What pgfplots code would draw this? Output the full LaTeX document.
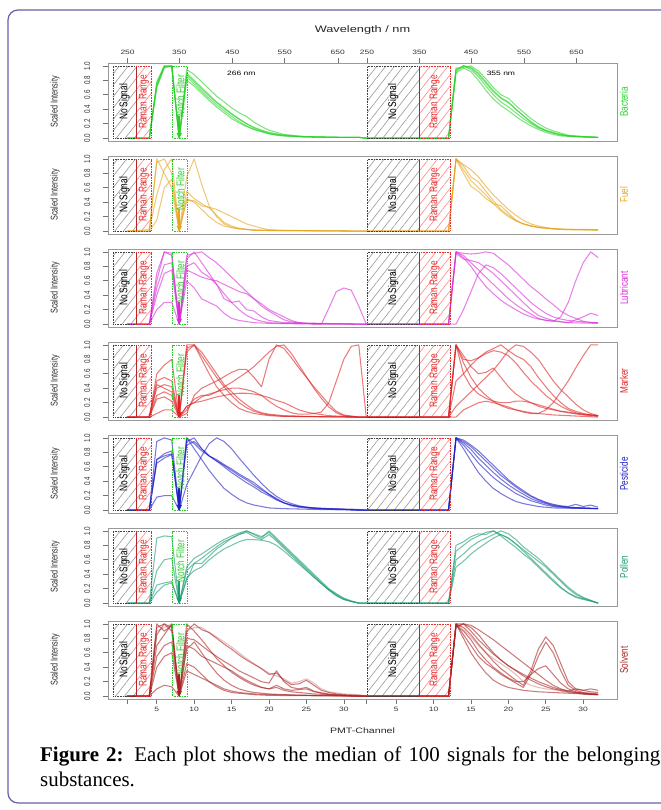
\documentclass[border=0pt]{standalone}
\usepackage{fontspec}
\setmainfont{Liberation Sans}
\newfontfamily\capfont{Liberation Serif}
\usepackage{pgfplots}
\pgfplotsset{compat=1.18}
\usetikzlibrary{patterns.meta,arrows.meta}
\definecolor{cBac}{RGB}{40,210,40}
\definecolor{cFue}{RGB}{230,165,30}
\definecolor{cLub}{RGB}{215,45,215}
\definecolor{cMar}{RGB}{222,35,35}
\definecolor{cPes}{RGB}{30,30,200}
\definecolor{cPol}{RGB}{25,155,115}
\definecolor{cSol}{RGB}{170,35,35}
\definecolor{cRam}{RGB}{225,45,45}
\definecolor{cNot}{RGB}{40,200,40}
\definecolor{cFrame}{RGB}{105,95,170}
\newcommand{\tl}{\fontsize{6.3}{7}\selectfont}
\newcommand{\rf}{\fontsize{8.3}{9}\selectfont}

\newcommand{\hatchregions}{%
  \fill[pattern={Lines[angle=52,distance=7bp,line width=0.65bp]}, pattern color=black!38] (axis cs:-0.87,0) rectangle (axis cs:2.24,0.99);
  \fill[pattern={Lines[angle=52,distance=7bp,line width=0.65bp]}, pattern color=red!45] (axis cs:2.24,0) rectangle (axis cs:4.24,0.99);
  \fill[pattern={Lines[angle=52,distance=7bp,line width=0.65bp]}, pattern color=black!38] (axis cs:33.13,0) rectangle (axis cs:40.07,0.99);
  \fill[pattern={Lines[angle=52,distance=7bp,line width=0.65bp]}, pattern color=red!45] (axis cs:40.07,0) rectangle (axis cs:44.2,0.99);
}
\newcommand{\regionlabels}[1]{%
  \draw[densely dotted, black!75, line width=0.6bp] (axis cs:-0.87,0) rectangle (axis cs:2.24,0.99);
  \draw[densely dotted, cRam, line width=0.6bp] (axis cs:2.24,0) rectangle (axis cs:4.24,0.99);
  \draw[cRam!80!black, line width=0.6bp] (axis cs:2.24,0) -- (axis cs:2.24,0.99);
  \draw[densely dotted, black!75, line width=0.6bp] (axis cs:33.13,0) rectangle (axis cs:40.07,0.99);
  \draw[densely dotted, cRam, line width=0.6bp] (axis cs:40.07,0) rectangle (axis cs:44.2,0.99);
  \draw[cRam!80!black, line width=0.6bp] (axis cs:40.07,0) -- (axis cs:40.07,0.99);
  \draw[densely dotted, cNot, line width=0.7bp] (axis cs:7.13,0) rectangle (axis cs:9.13,0.99);
  \draw[#1, line width=1.6bp, -{Triangle[width=5bp,length=6bp]}] (axis cs:8,0.3) -- (axis cs:8,-0.01);
  \node[xscale=1.35, rotate=90, font=\rf, text=black, inner sep=0] at (axis cs:0.68,0.5) {No Signal};
  \node[xscale=1.35, rotate=90, font=\rf, text=cRam, inner sep=0] at (axis cs:3.3,0.5) {Raman Range};
  \node[xscale=1.35, rotate=90, font=\rf, text=cNot, inner sep=0] at (axis cs:8.15,0.58) {Notch Filter};
  \node[xscale=1.35, rotate=90, font=\rf, text=black, inner sep=0] at (axis cs:36.6,0.5) {No Signal};
  \node[xscale=1.35, rotate=90, font=\rf, text=cRam, inner sep=0] at (axis cs:42.15,0.5) {Raman Range};
}

\pgfplotsset{
  panel/.style={at={(108bp,#1)}, anchor=south west, scale only axis,
    width=509bp, height=78bp,
    xmin=-1.52, xmax=66.52, ymin=-0.04, ymax=1.04,
    ytick={0,0.2,0.4,0.6,0.8,1}, yticklabels={0.0,0.2,0.4,0.6,0.8,1.0},
    ytick pos=left, xtick=\empty, tick align=outside, major tick length=5bp,
    axis line style={black!40, line width=0.7bp},
    every tick/.style={black!55, line width=0.6bp},
    yticklabel shift=8bp,
    yticklabel style={xscale=1.35, rotate=90, anchor=south, font=\tl, text=black!80},
    every axis plot/.append style={line width=1.05bp, line join=round, no markers, opacity=0.6},
  },
}

\begin{document}
\begin{tikzpicture}
\useasboundingbox (0,0) rectangle (661bp,810bp);
\draw[cFrame, line width=1.2bp, rounded corners=10bp] (8bp,7bp) rectangle (720bp,800bp);

\node[xscale=1.35, font=\fontsize{9.5}{10}\selectfont, text=black!85] at (362.5bp,780bp) {Wavelength / nm};
\node[xscale=1.35, font=\fontsize{7.9}{9}\selectfont, text=black!85] at (362.5bp,79bp) {PMT-Channel};

% ---------------- Bacteria
\begin{axis}[panel=669bp,
  xtick={1.1,8.0,15.1,22.1,29.2,33.1,40.1,47.0,54.1,61.1},
  xticklabels={250,350,450,550,650,250,350,450,550,650},
  xtick pos=right, xticklabel pos=right,
  xticklabel style={xscale=1.35, font=\tl, text=black!80}]
\hatchregions
\addplot[cBac] coordinates {(1,0)(4,0)(5,0.75)(6,1)(7,1)(8,0)(9,0.9)(10,0.8)(11,0.7)(12,0.6)(13,0.5)(14,0.42)(15,0.34)(16,0.27)(17,0.2)(18,0.15)(19,0.11)(20,0.08)(21,0.06)(22,0.04)(23,0.03)(24,0.02)(26,0.015)(30,0.01)(32,0.01)(33,0)(44,0)(45,0.95)(46,1)(47,0.98)(48,0.9)(49,0.78)(50,0.66)(51,0.56)(52,0.5)(53,0.4)(54,0.31)(55,0.23)(56,0.16)(57,0.11)(58,0.08)(59,0.05)(60,0.03)(61,0.02)(62,0.015)(64,0.01)};
\addplot[cBac] coordinates {(1,0)(4,0)(5,0.72)(6,0.98)(7,1)(8,0)(9,0.85)(10,0.75)(11,0.65)(12,0.55)(13,0.46)(14,0.38)(15,0.3)(16,0.23)(17,0.17)(18,0.12)(19,0.09)(20,0.06)(21,0.04)(22,0.03)(24,0.02)(28,0.01)(32,0.01)(33,0)(44,0)(45,0.92)(46,1)(47,0.95)(48,0.85)(49,0.72)(50,0.6)(51,0.5)(52,0.43)(53,0.35)(54,0.27)(55,0.2)(56,0.14)(57,0.1)(58,0.07)(59,0.04)(60,0.03)(62,0.02)(64,0.01)};
\addplot[cBac] coordinates {(1,0)(4,0)(5,0.78)(6,1)(7,0.99)(8,0)(9,0.95)(10,0.88)(11,0.78)(12,0.68)(13,0.58)(14,0.5)(15,0.42)(16,0.35)(17,0.3)(18,0.22)(19,0.16)(20,0.11)(21,0.08)(22,0.05)(23,0.04)(25,0.02)(30,0.01)(32,0.01)(33,0)(44,0)(45,0.97)(46,0.98)(47,1)(48,0.93)(49,0.82)(50,0.7)(51,0.6)(52,0.55)(53,0.45)(54,0.36)(55,0.27)(56,0.2)(57,0.14)(58,0.1)(59,0.07)(60,0.04)(61,0.03)(63,0.015)(64,0.01)};
\addplot[cBac] coordinates {(1,0)(4,0)(5,0.7)(6,0.97)(7,1)(8,0)(9,0.8)(10,0.72)(11,0.62)(12,0.52)(13,0.43)(14,0.35)(15,0.27)(16,0.21)(17,0.16)(18,0.12)(19,0.09)(20,0.06)(22,0.03)(25,0.02)(30,0.01)(32,0.01)(33,0)(44,0)(45,0.9)(46,0.97)(47,0.92)(48,0.8)(49,0.66)(50,0.54)(51,0.45)(52,0.38)(53,0.3)(54,0.23)(55,0.17)(56,0.12)(57,0.08)(58,0.05)(59,0.03)(61,0.02)(64,0.01)};
\addplot[cBac] coordinates {(1,0)(4,0)(5,0.74)(6,0.99)(7,1)(8,0)(9,0.88)(10,0.78)(11,0.68)(12,0.58)(13,0.49)(14,0.41)(15,0.33)(16,0.26)(17,0.2)(18,0.14)(19,0.1)(20,0.07)(21,0.05)(22,0.04)(24,0.02)(28,0.01)(32,0.01)(33,0)(44,0)(45,0.94)(46,1)(47,0.97)(48,0.88)(49,0.76)(50,0.64)(51,0.55)(52,0.49)(53,0.4)(54,0.31)(55,0.22)(56,0.15)(57,0.1)(58,0.07)(59,0.05)(60,0.03)(62,0.02)(64,0.01)};
\regionlabels{cBac}
\node[xscale=1.35, font=\tl] at (axis cs:16.3,0.89) {266 nm};
\node[xscale=1.35, font=\tl] at (axis cs:51,0.9) {355 nm};
\end{axis}

% ---------------- Fuel
\begin{axis}[panel=576bp]
\hatchregions
\addplot[cFue] coordinates {(1,0)(4,0)(5,1)(6,0.8)(7,0.6)(8,0)(9,0.42)(10,0.42)(11,0.35)(12,0.33)(13,0.3)(14,0.25)(15,0.2)(16,0.15)(17,0.1)(18,0.07)(19,0.04)(20,0.02)(22,0.01)(32,0)(44,0)(45,1)(46,0.85)(47,0.7)(48,0.6)(49,0.5)(50,0.38)(51,0.28)(52,0.2)(53,0.14)(54,0.1)(55,0.07)(56,0.05)(58,0.03)(60,0.02)(64,0.02)};
\addplot[cFue] coordinates {(1,0)(4,0.02)(5,0.5)(6,0.85)(7,1)(8,0)(9,0.55)(10,0.45)(11,0.38)(12,0.32)(13,0.22)(14,0.12)(15,0.07)(16,0.04)(18,0.01)(32,0)(44,0)(45,1)(46,0.92)(47,0.85)(48,0.75)(49,0.62)(50,0.5)(51,0.4)(52,0.3)(53,0.22)(54,0.15)(55,0.1)(56,0.07)(58,0.03)(64,0.02)};
\addplot[cFue] coordinates {(1,0)(4,0)(5,0.15)(6,0.6)(7,0.72)(8,0)(9,0.75)(10,1)(11,0.65)(12,0.35)(13,0.2)(14,0.1)(15,0.05)(16,0.03)(18,0.01)(32,0)(44,0)(45,1)(46,0.8)(47,0.62)(48,0.55)(49,0.45)(50,0.38)(51,0.35)(52,0.25)(53,0.15)(54,0.1)(56,0.05)(60,0.02)(64,0.01)};
\addplot[cFue] coordinates {(1,0)(4,0)(5,0.95)(6,1)(7,0.8)(8,0)(9,0.45)(10,0.4)(11,0.3)(12,0.2)(13,0.12)(14,0.07)(16,0.03)(20,0.01)(32,0)(44,0)(45,1)(46,0.9)(47,0.75)(48,0.68)(49,0.55)(50,0.42)(51,0.3)(52,0.22)(53,0.15)(54,0.1)(55,0.07)(57,0.04)(60,0.02)(64,0.02)};
\regionlabels{cFue}
\end{axis}

% ---------------- Lubricant
\begin{axis}[panel=483bp]
\hatchregions
\addplot[cLub] coordinates {(1,0)(4,0)(5,0.6)(6,1)(7,0.98)(8,0)(9,0.9)(10,1)(11,0.85)(12,0.7)(13,0.55)(14,0.42)(15,0.3)(16,0.2)(17,0.12)(18,0.07)(19,0.04)(20,0.02)(22,0.01)(32,0)(44,0)(45,1)(46,0.98)(47,0.97)(48,0.98)(49,1)(50,0.98)(51,0.9)(52,0.82)(53,0.72)(54,0.62)(55,0.52)(56,0.44)(57,0.35)(58,0.27)(59,0.18)(60,0.12)(61,0.08)(62,0.04)(63,0.02)(64,0.02)};
\addplot[cLub] coordinates {(1,0)(4,0)(5,0.4)(6,0.7)(7,0.75)(8,0)(9,0.95)(10,0.98)(11,1)(12,0.92)(13,0.85)(14,0.75)(15,0.65)(16,0.55)(17,0.45)(18,0.35)(19,0.25)(20,0.18)(21,0.12)(22,0.06)(23,0.03)(25,0.01)(32,0)(44,0)(45,0)(46,0.2)(47,0.45)(48,0.7)(49,0.82)(50,0.78)(51,0.7)(52,0.6)(53,0.5)(54,0.4)(55,0.3)(56,0.22)(57,0.15)(58,0.1)(59,0.07)(60,0.05)(62,0.03)(64,0.02)};
\addplot[cLub] coordinates {(1,0)(4,0)(5,0.2)(6,0.3)(7,0.3)(8,0)(9,0.8)(10,0.85)(11,0.72)(12,0.65)(13,0.55)(14,0.35)(15,0.3)(16,0.32)(17,0.2)(18,0.18)(19,0.1)(20,0.05)(22,0.02)(32,0)(44,0)(45,1)(46,0.95)(47,0.85)(48,0.75)(49,0.65)(50,0.55)(51,0.45)(52,0.35)(53,0.27)(54,0.2)(55,0.14)(56,0.08)(57,0.05)(58,0.04)(59,0.1)(60,0.3)(61,0.6)(62,0.85)(63,1)(64,0.92)};
\addplot[cLub] coordinates {(1,0)(4,0)(5,0.5)(6,0.82)(7,0.85)(8,0)(9,0.75)(10,0.7)(11,0.65)(12,0.62)(13,0.6)(14,0.55)(15,0.5)(16,0.45)(17,0.42)(18,0.35)(19,0.28)(20,0.2)(21,0.15)(22,0.1)(23,0.05)(24,0.02)(26,0)(32,0)(44,0)(45,1)(46,0.92)(47,0.8)(48,0.65)(49,0.52)(50,0.42)(51,0.33)(52,0.26)(53,0.2)(54,0.14)(55,0.1)(56,0.07)(58,0.04)(60,0.02)(62,0.1)(63,0.15)(64,0.12)};
\addplot[cLub] coordinates {(1,0)(4,0)(5,0.7)(6,1)(7,0.95)(8,0)(9,0.6)(10,0.5)(11,0.35)(12,0.3)(13,0.25)(14,0.15)(15,0.08)(16,0.05)(18,0.02)(20,0.01)(27,0)(28,0.22)(29,0.45)(30,0.5)(31,0.47)(32,0.25)(33,0)(44,0)(45,0.98)(46,0.9)(47,0.88)(48,0.85)(49,0.78)(50,0.7)(51,0.6)(52,0.5)(53,0.4)(54,0.3)(55,0.2)(56,0.12)(57,0.08)(58,0.05)(60,0.02)(64,0.01)};
\regionlabels{cLub}
\end{axis}

% ---------------- Marker
\begin{axis}[panel=390bp]
\hatchregions
\addplot[cMar] coordinates {(1,0)(4,0)(5,0.6)(6,0.72)(7,0.8)(8,0)(9,0.95)(10,1)(11,0.85)(12,0.7)(13,0.55)(14,0.42)(15,0.3)(16,0.2)(17,0.13)(18,0.08)(19,0.05)(20,0.03)(22,0.01)(32,0)(44,0)(45,1)(46,0.75)(47,0.55)(48,0.4)(49,0.3)(50,0.22)(51,0.16)(52,0.12)(53,0.1)(54,0.08)(55,0.06)(56,0.05)(58,0.03)(60,0.02)(62,0.01)(64,0)};
\addplot[cMar] coordinates {(1,0)(4,0)(5,0.3)(6,0.35)(7,0.3)(8,0)(9,1)(10,1)(11,0.9)(12,0.75)(13,0.6)(14,0.45)(15,0.35)(16,0.25)(17,0.17)(18,0.1)(19,0.06)(20,0.04)(22,0.02)(25,0.01)(32,0)(44,0)(45,1)(46,0.85)(47,0.7)(48,0.6)(49,0.62)(50,0.68)(51,0.55)(52,0.42)(53,0.32)(54,0.25)(55,0.2)(56,0.15)(57,0.12)(58,0.1)(59,0.08)(60,0.07)(61,0.05)(62,0.04)(63,0.03)(64,0.02)};
\addplot[cMar] coordinates {(1,0)(4,0)(5,0.5)(6,0.55)(7,0.5)(8,0)(9,0.05)(10,0.3)(11,0.4)(12,0.45)(13,0.5)(14,0.56)(15,0.62)(16,0.66)(17,0.66)(18,0.55)(19,0.42)(20,0.8)(21,1)(22,0.95)(23,0.82)(24,0.68)(25,0.55)(26,0.42)(27,0.3)(28,0.18)(29,0.08)(30,0.03)(32,0)(44,0)(45,0.5)(46,0.6)(47,0.72)(48,0.82)(49,0.9)(50,0.95)(51,1)(52,0.92)(53,0.85)(54,0.8)(55,0.7)(56,0.55)(57,0.42)(58,0.3)(59,0.2)(60,0.12)(61,0.08)(62,0.05)(63,0.03)(64,0.02)};
\addplot[cMar] coordinates {(1,0)(4,0)(5,0.45)(6,0.4)(7,0.35)(8,0)(9,0.1)(10,0.25)(11,0.3)(12,0.3)(13,0.35)(14,0.42)(15,0.48)(16,0.55)(17,0.62)(18,0.7)(19,0.8)(20,0.9)(21,0.98)(22,1)(23,0.88)(24,0.72)(25,0.56)(26,0.4)(27,0.26)(28,0.14)(29,0.06)(30,0.02)(32,0)(44,0)(45,0.15)(46,0.25)(47,0.35)(48,0.45)(49,0.55)(50,0.65)(51,0.78)(52,0.92)(53,1)(54,0.98)(55,0.9)(56,0.8)(57,0.65)(58,0.5)(59,0.38)(60,0.28)(61,0.18)(62,0.1)(63,0.05)(64,0.02)};
\addplot[cMar] coordinates {(1,0)(4,0)(5,0.05)(6,0.1)(7,0.1)(8,0)(9,0.15)(10,0.2)(11,0.28)(12,0.32)(13,0.35)(14,0.38)(15,0.4)(16,0.4)(17,0.38)(18,0.35)(19,0.3)(20,0.22)(21,0.15)(22,0.1)(23,0.06)(24,0.04)(25,0.04)(26,0.05)(27,0.07)(28,0.2)(29,0.5)(30,0.8)(31,0.98)(32,1)(33,0)(44,0)(45,0)(46,0.1)(47,0.15)(48,0.2)(49,0.22)(50,0.2)(51,0.17)(52,0.14)(53,0.1)(54,0.07)(55,0.05)(56,0.05)(57,0.1)(58,0.2)(59,0.35)(60,0.5)(61,0.68)(62,0.85)(63,1)(64,1)};
\addplot[cMar] coordinates {(1,0)(4,0)(5,0.4)(6,0.45)(7,0.42)(8,0)(9,0.9)(10,1)(11,0.8)(12,0.6)(13,0.42)(14,0.3)(15,0.2)(16,0.12)(17,0.08)(18,0.05)(20,0.02)(22,0.01)(32,0)(44,0)(45,1)(46,0.8)(47,0.78)(48,0.82)(49,0.88)(50,0.92)(51,0.9)(52,0.85)(53,0.75)(54,0.62)(55,0.5)(56,0.4)(57,0.3)(58,0.22)(59,0.15)(60,0.1)(61,0.06)(62,0.04)(64,0.02)};
\addplot[cMar] coordinates {(1,0)(4,0)(5,0.25)(6,0.28)(7,0.22)(8,0)(9,0.15)(10,0.2)(11,0.22)(12,0.25)(13,0.28)(14,0.3)(15,0.32)(16,0.33)(17,0.33)(18,0.32)(19,0.3)(20,0.27)(21,0.23)(22,0.2)(23,0.15)(24,0.1)(25,0.07)(26,0.05)(28,0.02)(30,0.01)(32,0)(44,0)(45,1)(46,0.6)(47,0.42)(48,0.32)(49,0.26)(50,0.22)(51,0.2)(52,0.2)(53,0.22)(54,0.22)(55,0.2)(56,0.17)(57,0.14)(58,0.11)(59,0.08)(60,0.06)(62,0.03)(64,0.01)};
\regionlabels{cMar}
\end{axis}

% ---------------- Pesticide
\begin{axis}[panel=297bp]
\hatchregions
\addplot[cPes] coordinates {(1,0)(4,0)(5,0.95)(6,1)(7,0.97)(8,0)(9,0.35)(10,0.55)(11,0.75)(12,0.92)(13,1)(14,0.95)(15,0.85)(16,0.72)(17,0.6)(18,0.48)(19,0.37)(20,0.27)(21,0.19)(22,0.13)(23,0.09)(24,0.06)(25,0.04)(27,0.02)(30,0.01)(32,0)(44,0)(45,1)(46,0.95)(47,0.88)(48,0.78)(49,0.68)(50,0.58)(51,0.48)(52,0.4)(53,0.32)(54,0.25)(55,0.19)(56,0.14)(57,0.1)(58,0.07)(59,0.05)(60,0.04)(62,0.03)(64,0.02)};
\addplot[cPes] coordinates {(1,0)(4,0)(5,0.7)(6,0.78)(7,0.82)(8,0)(9,1)(10,0.92)(11,0.82)(12,0.75)(13,0.68)(14,0.62)(15,0.55)(16,0.48)(17,0.42)(18,0.35)(19,0.28)(20,0.22)(21,0.15)(22,0.1)(23,0.07)(24,0.05)(26,0.03)(28,0.02)(32,0.01)(33,0)(44,0)(45,1)(46,0.9)(47,0.78)(48,0.65)(49,0.55)(50,0.45)(51,0.37)(52,0.3)(53,0.23)(54,0.18)(55,0.13)(56,0.1)(57,0.07)(58,0.05)(60,0.03)(64,0.02)};
\addplot[cPes] coordinates {(1,0)(4,0)(5,0.65)(6,0.72)(7,0.77)(8,0)(9,0.95)(10,1)(11,0.85)(12,0.75)(13,0.7)(14,0.63)(15,0.57)(16,0.5)(17,0.44)(18,0.38)(19,0.3)(20,0.22)(21,0.16)(22,0.1)(23,0.07)(24,0.05)(26,0.03)(30,0.01)(32,0)(44,0)(45,1)(46,0.85)(47,0.68)(48,0.52)(49,0.4)(50,0.3)(51,0.23)(52,0.17)(53,0.12)(54,0.09)(55,0.07)(56,0.05)(58,0.03)(64,0.02)};
\addplot[cPes] coordinates {(1,0)(4,0)(5,0.7)(6,0.75)(7,0.78)(8,0)(9,1)(10,0.85)(11,0.7)(12,0.55)(13,0.42)(14,0.3)(15,0.22)(16,0.15)(17,0.1)(18,0.07)(19,0.05)(20,0.03)(22,0.02)(26,0.01)(32,0)(44,0)(45,1)(46,0.97)(47,0.9)(48,0.82)(49,0.72)(50,0.62)(51,0.52)(52,0.42)(53,0.34)(54,0.27)(55,0.2)(56,0.15)(57,0.11)(58,0.08)(59,0.06)(60,0.05)(61,0.08)(62,0.05)(63,0.07)(64,0.04)};
\addplot[cPes] coordinates {(1,0)(4,0)(5,0.18)(6,0.2)(7,0.2)(8,0)(9,0.9)(10,0.95)(11,0.85)(12,0.75)(13,0.68)(14,0.6)(15,0.52)(16,0.45)(17,0.38)(18,0.32)(19,0.25)(20,0.2)(21,0.14)(22,0.1)(23,0.06)(24,0.04)(26,0.02)(30,0.01)(32,0)(44,0)(45,1)(46,0.93)(47,0.84)(48,0.72)(49,0.62)(50,0.52)(51,0.43)(52,0.35)(53,0.28)(54,0.22)(55,0.16)(56,0.12)(57,0.09)(58,0.06)(60,0.04)(64,0.02)};
\regionlabels{cPes}
\end{axis}

% ---------------- Pollen
\begin{axis}[panel=204bp]
\hatchregions
\addplot[cPol] coordinates {(1,0)(4,0)(5,0.9)(6,0.93)(7,0.92)(8,0)(9,0.45)(10,0.55)(11,0.55)(12,0.65)(13,0.75)(14,0.82)(15,0.9)(16,0.95)(17,1)(18,0.95)(19,0.9)(20,1)(21,0.9)(22,0.8)(23,0.7)(24,0.6)(25,0.5)(26,0.4)(27,0.3)(28,0.2)(29,0.13)(30,0.07)(31,0.03)(32,0)(44,0)(45,0.8)(46,0.85)(47,0.92)(48,0.96)(49,0.95)(50,1)(51,0.95)(52,0.9)(53,0.82)(54,0.72)(55,0.62)(56,0.52)(57,0.42)(58,0.32)(59,0.22)(60,0.14)(61,0.08)(62,0.05)(63,0.03)(64,0)};
\addplot[cPol] coordinates {(1,0)(4,0)(5,0.45)(6,0.6)(7,0.62)(8,0)(9,0.5)(10,0.62)(11,0.68)(12,0.75)(13,0.82)(14,0.88)(15,0.93)(16,0.97)(17,1)(18,0.96)(19,0.92)(20,0.98)(21,0.88)(22,0.78)(23,0.68)(24,0.58)(25,0.48)(26,0.38)(27,0.28)(28,0.19)(29,0.12)(30,0.06)(31,0.02)(32,0)(44,0)(45,0.72)(46,0.8)(47,0.88)(48,0.93)(49,0.98)(50,1)(51,0.93)(52,0.85)(53,0.77)(54,0.68)(55,0.6)(56,0.5)(57,0.4)(58,0.3)(59,0.21)(60,0.14)(61,0.09)(62,0.06)(63,0.03)(64,0)};
\addplot[cPol] coordinates {(1,0)(4,0)(5,0.25)(6,0.28)(7,0.3)(8,0)(9,0.32)(10,0.55)(11,0.62)(12,0.7)(13,0.78)(14,0.85)(15,0.9)(16,0.95)(17,0.98)(18,0.92)(19,0.88)(20,0.95)(21,0.86)(22,0.76)(23,0.66)(24,0.56)(25,0.46)(26,0.36)(27,0.27)(28,0.18)(29,0.11)(30,0.05)(32,0)(44,0)(45,0.6)(46,0.68)(47,0.78)(48,0.85)(49,0.9)(50,0.95)(51,1)(52,0.96)(53,0.88)(54,0.78)(55,0.7)(56,0.62)(57,0.52)(58,0.42)(59,0.32)(60,0.22)(61,0.14)(62,0.08)(63,0.04)(64,0)};
\addplot[cPol] coordinates {(1,0)(4,0)(5,0.15)(6,0.25)(7,0.28)(8,0)(9,0.35)(10,0.45)(11,0.5)(12,0.6)(13,0.68)(14,0.75)(15,0.8)(16,0.85)(17,0.88)(18,0.88)(19,0.87)(20,0.85)(21,0.8)(22,0.72)(23,0.63)(24,0.54)(25,0.45)(26,0.36)(27,0.27)(28,0.18)(29,0.1)(30,0.05)(32,0)(44,0)(45,0.5)(46,0.58)(47,0.68)(48,0.76)(49,0.83)(50,0.9)(51,0.95)(52,0.9)(53,0.82)(54,0.74)(55,0.66)(56,0.58)(57,0.5)(58,0.4)(59,0.3)(60,0.2)(61,0.12)(62,0.07)(63,0.03)(64,0)};
\regionlabels{cPol}
\end{axis}

% ---------------- Solvent
\begin{axis}[panel=111bp,
  xtick={1,5,10,15,20,25,30,33,37,42,47,52,57,62},
  xticklabels={,5,10,15,20,25,30,,5,10,15,20,25,30},
  xtick pos=left, xticklabel pos=left,
  xticklabel style={xscale=1.35, font=\tl, text=black!80}]
\hatchregions
\addplot[cSol] coordinates {(1,0)(4,0)(5,1)(6,0.9)(7,0.98)(8,0)(9,0.9)(10,1)(11,0.92)(12,0.88)(13,0.8)(14,0.72)(15,0.65)(16,0.57)(17,0.5)(18,0.44)(19,0.38)(20,0.3)(21,0.32)(22,0.22)(23,0.16)(24,0.17)(25,0.22)(26,0.15)(27,0.08)(28,0.05)(29,0.03)(30,0.02)(32,0.01)(33,0)(44,0)(45,1)(46,1)(47,0.98)(48,0.92)(49,0.85)(50,0.78)(51,0.7)(52,0.62)(53,0.54)(54,0.46)(55,0.38)(56,0.3)(57,0.22)(58,0.15)(59,0.1)(60,0.07)(61,0.05)(62,0.03)(63,0.02)(64,0.02)};
\addplot[cSol] coordinates {(1,0)(4,0)(5,0.95)(6,1)(7,0.95)(8,0)(9,0.8)(10,0.78)(11,0.7)(12,0.62)(13,0.55)(14,0.48)(15,0.42)(16,0.35)(17,0.3)(18,0.25)(19,0.2)(20,0.18)(21,0.35)(22,0.2)(23,0.12)(24,0.1)(25,0.12)(26,0.07)(27,0.04)(28,0.02)(30,0.01)(32,0)(44,0)(45,1)(46,0.85)(47,0.7)(48,0.55)(49,0.45)(50,0.38)(51,0.3)(52,0.24)(53,0.18)(54,0.12)(55,0.3)(56,0.55)(57,0.75)(58,0.6)(59,0.35)(60,0.15)(61,0.08)(62,0.05)(63,0.04)(64,0.03)};
\addplot[cSol] coordinates {(1,0)(4,0)(5,0.7)(6,0.85)(7,1)(8,0)(9,1)(10,0.9)(11,0.78)(12,0.65)(13,0.52)(14,0.42)(15,0.33)(16,0.26)(17,0.2)(18,0.15)(19,0.12)(20,0.1)(21,0.15)(22,0.1)(23,0.08)(24,0.09)(25,0.1)(26,0.06)(28,0.03)(30,0.01)(32,0)(44,0)(45,0.98)(46,0.9)(47,0.78)(48,0.62)(49,0.5)(50,0.4)(51,0.32)(52,0.25)(53,0.2)(54,0.2)(55,0.3)(56,0.38)(57,0.42)(58,0.3)(59,0.18)(60,0.1)(61,0.06)(62,0.04)(64,0.02)};
\addplot[cSol] coordinates {(1,0)(4,0)(5,0.55)(6,0.7)(7,0.75)(8,0)(9,0.65)(10,0.75)(11,0.6)(12,0.45)(13,0.32)(14,0.22)(15,0.15)(16,0.1)(17,0.07)(18,0.05)(19,0.04)(20,0.03)(22,0.02)(25,0.01)(32,0)(44,0)(45,1)(46,0.8)(47,0.6)(48,0.45)(49,0.32)(50,0.22)(51,0.16)(52,0.12)(53,0.1)(54,0.08)(55,0.07)(56,0.06)(58,0.05)(60,0.04)(62,0.03)(64,0.02)};
\addplot[cSol] coordinates {(1,0)(4,0)(5,0.1)(6,0.15)(7,0.13)(8,0)(9,0.45)(10,0.4)(11,0.3)(12,0.2)(13,0.13)(14,0.08)(15,0.05)(16,0.04)(18,0.02)(20,0.01)(32,0)(44,0)(45,0.95)(46,1)(47,0.9)(48,0.78)(49,0.68)(50,0.58)(51,0.5)(52,0.42)(53,0.35)(54,0.28)(55,0.22)(56,0.17)(57,0.13)(58,0.1)(59,0.08)(60,0.06)(62,0.04)(64,0.02)};
\addplot[cSol] coordinates {(1,0)(4,0)(5,0.4)(6,0.55)(7,0.6)(8,0)(9,0.35)(10,0.3)(11,0.25)(12,0.2)(13,0.15)(14,0.1)(15,0.07)(16,0.05)(18,0.03)(20,0.02)(32,0)(44,0)(45,1)(46,0.95)(47,0.85)(48,0.72)(49,0.6)(50,0.48)(51,0.38)(52,0.3)(53,0.22)(54,0.15)(55,0.35)(56,0.65)(57,0.82)(58,0.7)(59,0.45)(60,0.2)(61,0.1)(62,0.08)(63,0.1)(64,0.08)};
\addplot[cSol, opacity=0.3] coordinates {(1,0)(4,0)(5,0.9)(6,0.95)(7,1)(8,0)(9,0.9)(10,0.95)(11,0.95)(12,0.88)(13,0.82)(14,0.75)(15,0.68)(16,0.6)(17,0.52)(18,0.45)(19,0.38)(20,0.32)(21,0.28)(22,0.24)(23,0.18)(24,0.2)(25,0.24)(26,0.18)(27,0.1)(28,0.06)(30,0.03)(32,0.02)(33,0)(44,0)(45,1)(46,0.92)(47,0.82)(48,0.7)(49,0.6)(50,0.52)(51,0.45)(52,0.38)(53,0.3)(54,0.2)(55,0.15)(56,0.12)(57,0.1)(58,0.09)(60,0.05)(62,0.03)(64,0.02)};
\addplot[cSol] coordinates {(1,0)(4,0)(5,0.85)(6,1)(7,0.9)(8,0)(9,0.7)(10,0.65)(11,0.55)(12,0.5)(13,0.45)(14,0.4)(15,0.35)(16,0.28)(17,0.22)(18,0.17)(19,0.12)(20,0.1)(21,0.12)(22,0.08)(23,0.06)(24,0.05)(26,0.03)(28,0.02)(32,0)(44,0)(45,0.97)(46,1)(47,0.95)(48,0.85)(49,0.72)(50,0.6)(51,0.5)(52,0.42)(53,0.36)(54,0.3)(55,0.25)(56,0.2)(57,0.16)(58,0.12)(59,0.09)(60,0.07)(61,0.1)(62,0.08)(63,0.06)(64,0.05)};
\regionlabels{cSol}
\end{axis}

% ---------------- side labels
\foreach \ym/\nm/\cl in {708/Bacteria/cBac,615/Fuel/cFue,522/Lubricant/cLub,429/Marker/cMar,336/Pesticide/cPes,243/Pollen/cPol,150/Solvent/cSol}{
  \node[xscale=1.35, rotate=90, font=\fontsize{7.3}{8}\selectfont, text=black!85] at (55bp,\ym bp) {Scaled Intensity};
  \node[xscale=1.35, rotate=90, font=\fontsize{8.2}{9}\selectfont, text=\cl] at (624bp,\ym bp) {\nm};
}

% ---------------- caption
\node[anchor=base west, inner sep=0] at (40bp,48bp) {\capfont\fontsize{21}{24}\selectfont\hbox to 620bp{\textbf{Figure 2:} Each plot shows the median of 100 signals for the belonging}};
\node[anchor=base west, inner sep=0] at (40bp,24bp) {\capfont\fontsize{21}{24}\selectfont substances.};
\end{tikzpicture}
\end{document}
